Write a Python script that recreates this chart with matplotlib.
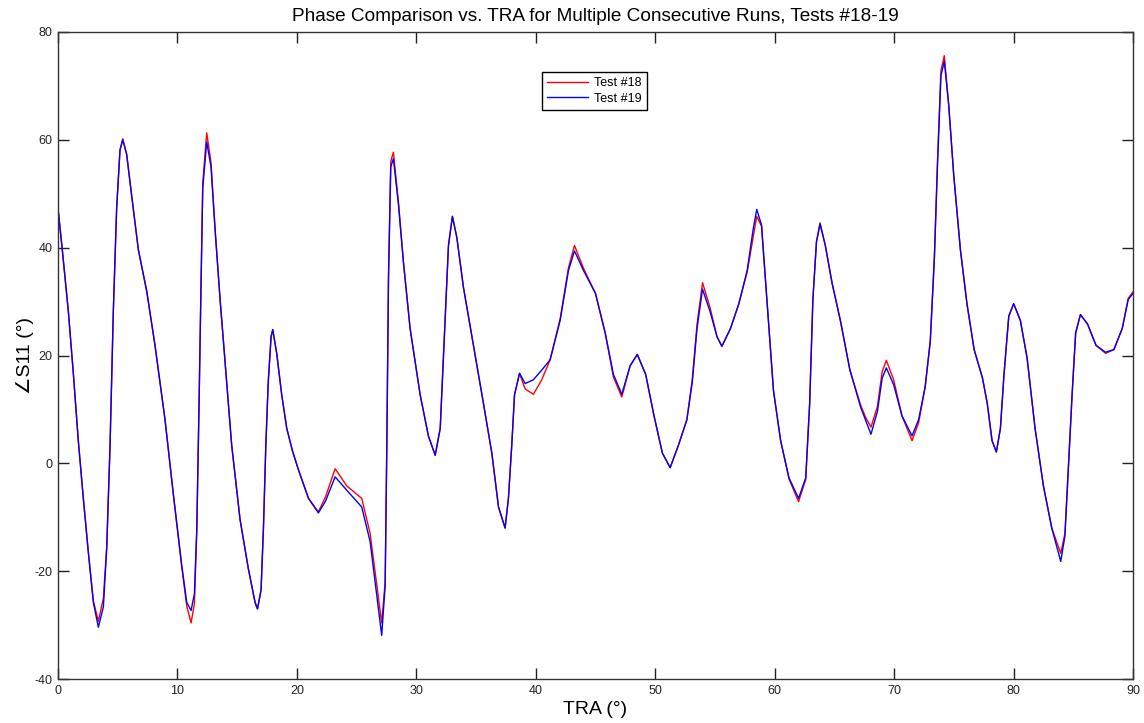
import matplotlib
matplotlib.use("Agg")
import matplotlib.pyplot as plt

plt.rcParams['font.family'] = ['Liberation Sans', 'DejaVu Sans']
plt.rcParams['axes.unicode_minus'] = False

title = "Phase Comparison vs. TRA for Multiple Consecutive Runs, Tests #18-19"
xlabel = "TRA (°)"
ylabel = "∠S11 (°)"
labels = ["Test #18", "Test #19"]

tra = [0.0, 0.36, 0.87, 1.29, 1.70, 2.12, 2.54, 2.96, 3.38, 3.80, 4.08, 4.36, 4.63, 4.91,
       5.19, 5.42, 5.75, 6.17, 6.73, 7.43, 8.12, 8.96, 9.66, 10.36, 10.78, 11.14, 11.42,
       11.62, 11.81, 11.98, 12.12, 12.45, 12.81, 13.15, 13.57, 13.99, 14.54, 15.24, 15.94,
       16.5, 16.7, 17.0, 17.2, 17.4, 17.6, 17.84, 17.98, 18.31, 18.73, 19.15, 19.63, 20.13,
       20.97, 21.8, 22.4, 23.2, 24.18, 25.43, 26.13, 26.69, 27.1, 27.39, 27.53, 27.67,
       27.86, 28.08, 28.5, 28.92, 29.48, 30.32, 31.02, 31.58, 32.0, 32.33, 32.69, 33.02,
       33.39, 33.94, 34.78, 35.62, 36.32, 36.88, 37.43, 37.71, 37.99, 38.22, 38.64, 39.11,
       39.8, 40.5, 41.2, 42.04, 42.74, 43.24, 43.99, 45.0, 45.81, 46.5, 47.2, 47.9, 48.5,
       49.2, 49.9, 50.6, 51.25, 51.95, 52.65, 53.1, 53.5, 53.96, 54.6, 55.17, 55.58, 56.3,
       57.0, 57.7, 58.2, 58.5, 58.9, 59.35, 59.9, 60.5, 61.2, 62.0, 62.6, 62.93, 63.2, 63.5,
       63.8, 64.24, 64.8, 65.5, 66.3, 67.2, 67.6, 68.06, 68.6, 69.0, 69.35, 69.96, 70.66,
       71.5, 72.05, 72.6, 73.03, 73.37, 73.64, 73.92, 74.2, 74.57, 74.99, 75.55, 76.1, 76.7,
       77.4, 77.8, 78.2, 78.56, 78.9, 79.2, 79.6, 80.01, 80.57, 81.13, 81.8, 82.5, 83.2,
       83.95, 84.3, 84.6, 84.9, 85.2, 85.6, 86.2, 86.9, 87.7, 88.4, 89.1, 89.6, 90.0]

test19 = [47.3, 39.6, 28.1, 16.5, 4.2, -6.5, -16.5, -25.8, -30.4, -26.6, -15.8, 3.4, 28.1, 47.3,
          58.1, 60.0, 57.3, 49.6, 39.6, 31.9, 21.9, 8.1, -5.8, -18.9, -25.8, -27.3, -24.2,
          -12.0, 11.1, 34.2, 51.1, 59.6, 55.0, 43.4, 30.4, 18.8, 3.4, -10.4, -19.6,
          -25.8, -27.0, -23.5, -12.0, 3.4, 15.0, 23.5, 24.8, 20.4, 12.7, 6.5, 2.3, -1.2,
          -6.5, -9.2, -7.0, -2.5, -5.0, -8.1, -14.5, -24.5, -31.9, -22.7, 3.4, 34.2,
          55.0, 56.5, 48.1, 37.3, 25.0, 12.7, 5.0, 1.5, 6.5, 22.7, 40.4, 45.8,
          41.9, 32.7, 21.9, 11.1, 1.9, -8.1, -12.0, -6.5, 3.4, 12.7, 16.7, 14.8,
          15.5, 17.3, 19.2, 26.5, 35.8, 39.4, 35.8, 31.5, 24.2, 16.5, 12.8, 18.1, 20.2,
          16.5, 8.8, 1.9, -0.8, 3.4, 8.1, 15.0, 25.0, 32.3, 28.1, 23.5, 21.7, 25.0,
          29.6, 35.8, 43.4, 47.1, 44.2, 30.4, 13.5, 4.2, -2.7, -6.5, -2.7, 11.1, 30.4, 41.1,
          44.4, 40.4, 33.5, 26.5, 17.3, 10.4, 8.1, 5.4, 9.6, 15.8, 17.7, 14.6, 8.8,
          5.1, 8.1, 14.2, 22.7, 38.1, 55.8, 71.9, 74.6, 66.5, 53.5, 39.6, 29.6, 21.1,
          15.8, 11.1, 4.2, 2.1, 6.5, 16.5, 27.3, 29.6, 26.5, 19.6, 6.5, -4.2, -12.0,
          -18.2, -13.5, -0.4, 12.7, 24.2, 27.6, 25.8, 21.9, 20.6, 21.1, 25.0, 30.4, 31.5]

test18 = [47.3, 39.6, 28.1, 16.5, 4.2, -6.5, -16.5, -25.5, -29.3, -25.0, -15.3, 3.6, 28.1, 47.3,
          58.1, 60.2, 57.3, 49.6, 39.6, 31.9, 21.9, 8.1, -5.8, -19.2, -26.5, -29.6, -26.0,
          -12.5, 11.1, 34.2, 52.0, 61.3, 55.8, 43.4, 30.4, 18.8, 3.4, -10.4, -19.6,
          -25.8, -27.0, -23.5, -12.0, 3.4, 15.0, 23.5, 24.8, 20.4, 12.7, 6.5, 2.3, -1.2,
          -6.5, -9.0, -6.2, -1.0, -4.2, -6.5, -13.0, -22.5, -29.6, -22.0, 3.4, 35.0,
          56.0, 57.7, 48.5, 37.3, 25.0, 12.7, 5.0, 1.5, 6.5, 22.7, 40.4, 45.8,
          41.9, 32.7, 21.9, 11.1, 1.9, -8.1, -12.0, -6.5, 3.4, 12.7, 16.7, 13.8,
          12.8, 15.5, 19.2, 26.8, 36.3, 40.4, 36.2, 31.5, 24.2, 16.0, 12.3, 18.1, 20.2,
          16.5, 8.8, 1.9, -0.8, 3.4, 8.1, 15.5, 25.8, 33.5, 28.8, 23.5, 21.7, 25.0,
          29.6, 35.5, 42.0, 45.8, 44.0, 30.4, 13.5, 4.2, -2.9, -7.1, -3.0, 11.1, 30.4, 41.1,
          44.6, 40.4, 33.5, 26.5, 17.3, 10.8, 8.6, 6.7, 10.5, 17.0, 19.1, 15.5, 8.8,
          4.2, 7.5, 14.2, 22.7, 38.1, 56.5, 72.8, 75.6, 66.5, 53.5, 39.6, 29.6, 21.1,
          15.8, 11.1, 4.2, 2.1, 6.5, 16.5, 27.3, 29.6, 26.5, 19.6, 6.5, -4.2, -12.0,
          -16.7, -13.0, -0.4, 12.7, 24.2, 27.6, 25.8, 21.9, 20.4, 21.1, 25.0, 30.6, 31.8]

xticks = list(range(0, 91, 10))
yticks = list(range(-40, 81, 20))

fig = plt.figure(figsize=(11.44, 7.23), dpi=100)
ax = fig.add_axes([58/1144, 1 - 679/723, (1133-58)/1144, (679-32)/723])

ax.plot(tra, test18, color=(1, 0, 0), lw=1.0, label=labels[0])
ax.plot(tra, test19, color=(0, 0, 1), lw=1.0, label=labels[1])

ax.set_xlim(0, 90)
ax.set_ylim(-40, 80)
ax.set_xticks(xticks)
ax.set_yticks(yticks)
ax.tick_params(direction='in', length=8, width=1, top=True, right=True,
               labelsize=9, pad=4, colors='#222222')
for s in ax.spines.values():
    s.set_color('#333333')
    s.set_linewidth(1.0)

ax.set_title(title, fontsize=13.7, pad=8)
ax.set_xlabel(xlabel, fontsize=14, labelpad=3)
ax.set_ylabel(ylabel, fontsize=14, labelpad=0)

leg = ax.legend(loc='upper left', bbox_to_anchor=(0.45, 0.938), fontsize=9,
                fancybox=False, framealpha=1, edgecolor='black', borderpad=0.4,
                handlelength=3.3, labelspacing=0.3, handletextpad=0.5, borderaxespad=0)
leg.get_frame().set_linewidth(1.0)

fig.savefig("out.png", dpi=100)
